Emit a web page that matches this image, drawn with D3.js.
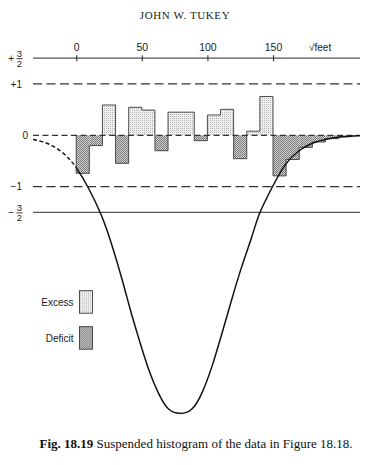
<!DOCTYPE html>
<html>
<head>
<meta charset="utf-8">
<script src="https://cdn.jsdelivr.net/npm/d3@7"></script>
<style>
  body { margin: 0; background: #fff; }
  svg { display: block; }
</style>
</head>
<body>
<div id="chart"></div>
<script>
// residuals (sqrt scale) per bin of 10 sqrt-feet
const binStarts = [0, 10, 20, 30, 40, 50, 60, 70, 80, 90, 100, 110, 120, 130, 140, 150, 160, 170, 180, 190, 200];
const residuals = [-0.74, -0.20, 0.59, -0.545, 0.545, 0.49, -0.30, 0.45, 0.45, -0.105, 0.395, 0.505,
    -0.455, 0.08, 0.755, -0.79, -0.47, -0.235, -0.13, -0.065, -0.025];
const binWidth = 10;

// the hanging fitted curve
const curveX = [-32.9, -20, -8.5, 0, 9.2, 19.4, 27.1, 34.7, 41.0, 47.3, 54.9, 62.6, 70.2, 79.1,
    88.0, 95.7, 103.3, 110.9, 118.5, 126.1, 133.8, 139.6, 149.0, 159.1, 169.1, 179.5, 189.6, 201, 216.3];
const curveY = [-0.08, -0.18, -0.38, -0.63, -1.02, -1.57, -2.13, -2.78, -3.37, -3.92, -4.53, -5.01, -5.32, -5.41,
    -5.33, -5.02, -4.51, -3.87, -3.20, -2.56, -1.98, -1.53, -1.03, -0.58, -0.315, -0.16, -0.08, -0.035, -0.01];

const xTicks = [0, 50, 100, 150];
const refLevels = [1.5, 1, 0, -1, -1.5];
const legendItems = ["Excess", "Deficit"];

const width = 373;
const height = 465;

const svg = d3.select("#chart").append("svg")
    .attr("width", width)
    .attr("height", height);

const defs = svg.append("defs");
const excessPat = defs.append("pattern")
    .attr("id", "excess").attr("width", 2).attr("height", 2)
    .attr("patternUnits", "userSpaceOnUse");
excessPat.append("rect").attr("width", 2).attr("height", 2).attr("fill", "#efefef");
excessPat.append("rect").attr("width", 1).attr("height", 1).attr("fill", "#b4b4b4");

const deficitPat = defs.append("pattern")
    .attr("id", "deficit").attr("width", 2).attr("height", 2)
    .attr("patternUnits", "userSpaceOnUse");
deficitPat.append("rect").attr("width", 2).attr("height", 2).attr("fill", "#cfcfcf");
deficitPat.append("rect").attr("width", 1).attr("height", 1).attr("fill", "#7c7c7c");
deficitPat.append("rect").attr("x", 1).attr("y", 1).attr("width", 1).attr("height", 1).attr("fill", "#7c7c7c");

const x = d3.scaleLinear().domain([0, 150]).range([76.2, 273]);
const y = d3.scaleLinear().domain([1.5, -1.5]).range([58.2, 212.4]);
const lineLeft = 33;
const lineRight = 360;

// split the curve at sqrt feet = 0
defs.append("clipPath").attr("id", "neg")
    .append("rect").attr("x", 0).attr("y", 0).attr("width", x(0)).attr("height", height);
defs.append("clipPath").attr("id", "pos")
    .append("rect").attr("x", x(0)).attr("y", 0).attr("width", width - x(0)).attr("height", height);

const serif = "'Liberation Serif', 'Times New Roman', serif";
const sans = "'Liberation Sans', Arial, sans-serif";

// running head
svg.append("text")
    .attr("x", 185).attr("y", 19)
    .attr("text-anchor", "middle")
    .style("font-family", serif)
    .style("font-size", "11px")
    .style("letter-spacing", "0.6px")
    .attr("fill", "#222")
    .text("JOHN W. TUKEY");

// bars
const bars = binStarts.map((b, i) => ({x0: b, x1: b + binWidth, v: residuals[i]}));
svg.append("g").selectAll("rect")
    .data(bars)
    .join("rect")
    .attr("x", d => x(d.x0))
    .attr("width", d => x(d.x1) - x(d.x0))
    .attr("y", d => Math.min(y(0), y(d.v)))
    .attr("height", d => Math.abs(y(d.v) - y(0)))
    .attr("fill", d => d.v >= 0 ? "url(#excess)" : "url(#deficit)");

// histogram outline as a step line
const stepPts = [[binStarts[0], 0]];
bars.forEach(d => stepPts.push([d.x0, d.v]));
stepPts.push([bars[bars.length - 1].x1, bars[bars.length - 1].v]);
stepPts.push([bars[bars.length - 1].x1, 0]);
svg.append("path")
    .attr("d", d3.line().x(d => x(d[0])).y(d => y(d[1])).curve(d3.curveStepAfter)(stepPts))
    .attr("fill", "none")
    .attr("stroke", "#3a3a3a")
    .attr("stroke-width", 0.9);

// horizontal reference lines
const dashFor = function(v) {
    if (v === 0) return "6,3.5";
    if (Math.abs(v) === 1) return "9,4.5";
    return null;
};
svg.append("g").selectAll("line")
    .data(refLevels)
    .join("line")
    .attr("x1", lineLeft).attr("x2", lineRight)
    .attr("y1", d => y(d)).attr("y2", d => y(d))
    .attr("stroke", d => Math.abs(d) === 1.5 ? "#555" : "#333")
    .attr("stroke-width", 1.2)
    .attr("stroke-dasharray", dashFor);

// x axis on the +3/2 line
const axis = svg.append("g")
    .attr("transform", "translate(0," + (y(1.5) + 3) + ")")
    .call(d3.axisTop(x).tickValues(xTicks).tickSize(6).tickPadding(4.5));
axis.select(".domain").remove();
axis.selectAll(".tick line").attr("stroke", "#333").attr("stroke-width", 1.1);
axis.selectAll(".tick text")
    .attr("fill", "#222")
    .style("font-family", sans)
    .style("font-size", "10.5px");

svg.append("text")
    .attr("x", 309).attr("y", 50.5)
    .style("font-family", sans)
    .style("font-size", "10px")
    .attr("fill", "#222")
    .text("\u221Afeet");

// left labels
const leftLabel = function(txt, xx, v) {
    svg.append("text")
        .attr("x", xx).attr("y", y(v) + 3.6)
        .attr("text-anchor", "end")
        .style("font-family", sans)
        .style("font-size", "10px")
        .attr("fill", "#222")
        .text(txt);
};
leftLabel("+1", 22, 1);
leftLabel("0", 28, 0);
leftLabel("\u22121", 22, -1);

const fracLabel = function(sign, v) {
    const g = svg.append("g").attr("transform", "translate(0," + y(v) + ")");
    g.append("text").attr("x", 14).attr("y", 4).attr("text-anchor", "end")
        .style("font-family", sans).style("font-size", "10px").attr("fill", "#222")
        .text(sign);
    g.append("text").attr("x", 19.5).attr("y", -1.2).attr("text-anchor", "middle")
        .style("font-family", sans).style("font-size", "9.5px").attr("fill", "#222")
        .text("3");
    g.append("line").attr("x1", 16.5).attr("x2", 22.5).attr("y1", 0.5).attr("y2", 0.5)
        .attr("stroke", "#222").attr("stroke-width", 0.9);
    g.append("text").attr("x", 19.5).attr("y", 8.8).attr("text-anchor", "middle")
        .style("font-family", sans).style("font-size", "9.5px").attr("fill", "#222")
        .text("2");
};
fracLabel("+", 1.5);
fracLabel("\u2212", -1.5);

// fitted curve: dashed where sqrt feet < 0
const curvePts = curveX.map((v, i) => [v, curveY[i]]);
const curvePath = d3.line().x(d => x(d[0])).y(d => y(d[1])).curve(d3.curveNatural)(curvePts);
svg.append("path")
    .attr("d", curvePath)
    .attr("clip-path", "url(#neg)")
    .attr("fill", "none")
    .attr("stroke", "#111")
    .attr("stroke-width", 1.4)
    .attr("stroke-dasharray", "4,2.5");
svg.append("path")
    .attr("d", curvePath)
    .attr("clip-path", "url(#pos)")
    .attr("fill", "none")
    .attr("stroke", "#111")
    .attr("stroke-width", 1.5);

// legend
const legend = svg.append("g").selectAll("g")
    .data(legendItems)
    .join("g")
    .attr("transform", (d, i) => "translate(0," + (290.7 + i * 36) + ")");
legend.append("rect")
    .attr("x", 79.5).attr("width", 13).attr("height", 22.5)
    .attr("fill", (d, i) => i === 0 ? "url(#excess)" : "url(#deficit)")
    .attr("stroke", "#3a3a3a")
    .attr("stroke-width", 0.9);
legend.append("text")
    .attr("x", 73.5).attr("y", 15.5)
    .attr("text-anchor", "end")
    .style("font-family", sans)
    .style("font-size", "10px")
    .attr("fill", "#222")
    .text(d => d);

// caption
const cap = svg.append("text")
    .attr("x", 39.5).attr("y", 448)
    .style("font-family", serif)
    .style("font-size", "13px")
    .attr("fill", "#111");
cap.append("tspan").style("font-weight", "bold").text("Fig. 18.19");
cap.append("tspan").text(" Suspended histogram of the data in Figure 18.18.");
</script>
</body>
</html>
